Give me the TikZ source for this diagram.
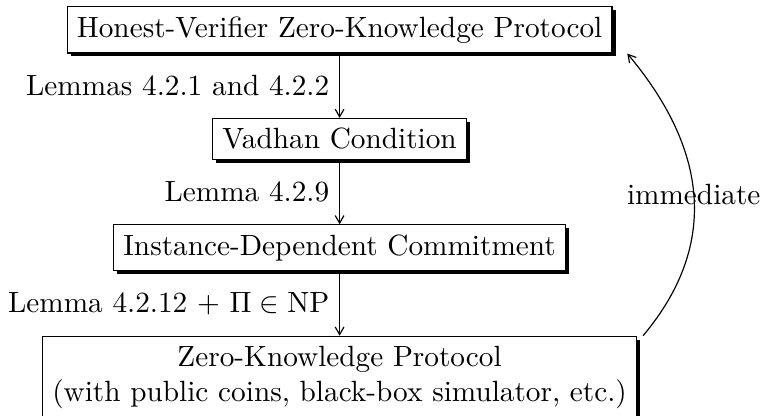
\documentclass[tikz,border=0pt]{standalone}
\usepackage{amsmath,amsfonts}
\usepackage{tikz}
\usetikzlibrary{arrows.meta}
\usetikzlibrary{positioning}
\usetikzlibrary{shadows}
\newcommand{\stepnode}[3]{\node(#1)[stepbox,#2]{#3}}

\begin{document}
\begin{tikzpicture}[
    node distance=22pt,
    >={Straight Barb[length=2.6pt,width=3pt]},
    stepbox/.style={rectangle,draw=black,fill=white,thin,
                    drop shadow={fill=black,opacity=1,shadow xshift=1.2pt,shadow yshift=-1.2pt}},
    lemma/.style={left,midway}
  ]
  \useasboundingbox (0,0) rectangle (262pt,-142pt);
  \stepnode{hv}{at={(116pt,-10.2pt)}}{Honest-Verifier Zero-Knowledge Protocol};
  \stepnode{vadhan}{below=of hv}{Vadhan Condition};
  \stepnode{idc}{below=of vadhan}{Instance-Dependent Commitment};
  \stepnode{zk}{below=of idc,align=center}{Zero-Knowledge Protocol\\(with public coins, black-box simulator, etc.)};
  \draw[->] (hv) -- node[lemma]{Lemmas 4.2.1 and 4.2.2} (vadhan);
  \draw[->] (vadhan) -- node[lemma]{Lemma 4.2.9} (idc);
  \draw[->] (idc) -- node[lemma]{Lemma 4.2.12 + $\Pi \in \mathrm{NP}$} (zk);
  \draw[->] ([xshift=2pt]zk.north east) to[out=50,in=-50,looseness=1.1]
    node{immediate} ([xshift=5pt]hv.south east);
\end{tikzpicture}
\end{document}
